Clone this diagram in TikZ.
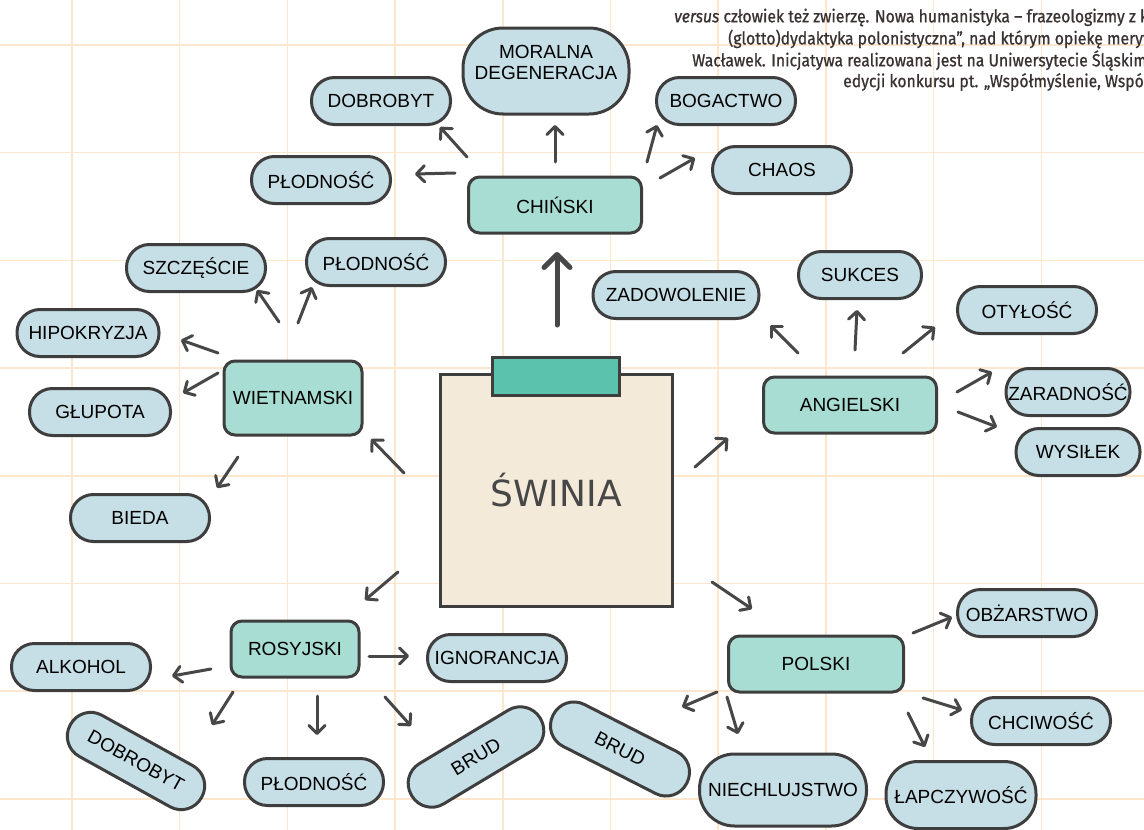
\documentclass[tikz,border=0pt]{standalone}
\usepackage{fontspec}
\usetikzlibrary{calc,arrows.meta,positioning}
\newfontfamily\nodefont{Liberation Sans}
\newfontfamily\bigfont{DejaVu Sans}
\newfontfamily\parfont[FakeStretch=0.9,FakeBold=0.8]{Fira Sans}
\definecolor{gridline}{HTML}{FCE6CC}
\definecolor{leafblue}{HTML}{C6DEE6}
\definecolor{catteal}{HTML}{A7DDD2}
\definecolor{clipteal}{HTML}{5BC3AD}
\definecolor{paper}{HTML}{F4EAD9}
\definecolor{edgegray}{HTML}{3E3E3E}
\definecolor{arrowgray}{HTML}{474747}
\definecolor{textbrown}{HTML}{3A3232}
\tikzset{
     catnode/.style  = {draw=edgegray, fill=catteal, line width=3pt, rounded corners=11pt,
                        minimum width=173pt, minimum height=56pt, inner sep=0pt,
                        font=\nodefont\fontsize{19}{21}\selectfont},
     leafnode/.style = {draw=edgegray, fill=leafblue, line width=3pt, rounded corners=23pt,
                        minimum width=139pt, minimum height=47pt, inner sep=0pt,
                        font=\nodefont\fontsize{19}{21}\selectfont},
     arr/.style      = {arrowgray, line width=3pt, line cap=round, line join=round,
                        -{Straight Barb[length=8pt,width=16pt,round]}},
     bigarr/.style   = {arrowgray, line width=5pt, line cap=round, line join=round,
                        -{Straight Barb[length=13pt,width=26pt,round]}},
     partext/.style  = {anchor=west, inner sep=0pt, text=textbrown,
                        font=\parfont\fontsize{17.5}{19}\selectfont},
    }

\begin{document}
\begin{tikzpicture}[x=1pt,y=-1pt]
        \useasboundingbox (0,0) rectangle (1144,830);
        \clip (0,0) rectangle (1144,830);
        \fill[white] (0,0) rectangle (1144,830);
        % grid paper
        \foreach \gx in {0,...,9}
            \draw[gridline, line width=1.5pt] ({72+107.7*\gx},0) -- ++(0,830);
        \foreach \gy in {0,...,7}
            \draw[gridline, line width=1.5pt] (0,{45+107.7*\gy}) -- ++(1144,0);

        % note in the corner
        \node[partext] (txta) at (674,17.5) {\textit{versus} człowiek też zwierzę. Nowa humanistyka – frazeologizmy z k};
        \node[partext] (txtb) at (728,39) {(glotto)dydaktyka polonistyczna”, nad którym opiekę meryt};
        \node[partext] (txtc) at (692,60.5) {Wacławek. Inicjatywa realizowana jest na Uniwersytecie Śląskim};
        \node[partext] (txtd) at (843,82) {edycji konkursu pt. „Współmyślenie, Współ};

        % centre card
        \node[draw=edgegray, fill=paper, line width=3pt, minimum size=232pt, inner sep=0pt,
              text=black!72, font=\bigfont\fontsize{36}{40}\selectfont] (swinia) at (556,490) {ŚWINIA};
        \node[draw=edgegray, fill=clipteal, line width=3pt, minimum width=127pt, minimum height=38pt] (klips) at (556,376) {};

        % languages
        \node[catnode] (chin) at (555,205) {CHIŃSKI};
        \node[catnode, minimum width=138pt, minimum height=74pt] (wiet) at (293,398) {WIETNAMSKI};
        \node[catnode] (ang) at (850,405) {ANGIELSKI};
        \node[catnode, minimum width=128pt] (ros) at (295,649) {ROSYJSKI};
        \node[catnode, minimum width=175pt] (pol) at (816,664) {POLSKI};

        % chinese
        \node[leafnode, align=center, minimum width=166pt, minimum height=86pt, rounded corners=40pt] (moral) at (546,71) {MORALNA\\DEGENERACJA\\[-4pt]};
        \node[leafnode] (dob1) at (381,101) {DOBROBYT};
        \node[leafnode] (plod1) at (321,180) {PŁODNOŚĆ};
        \node[leafnode] (bog) at (726,101) {BOGACTWO};
        \node[leafnode] (chaos) at (782,170) {CHAOS};

        % vietnamese
        \node[leafnode] (szcz) at (196,268) {SZCZĘŚCIE};
        \node[leafnode] (plod2) at (376,262) {PŁODNOŚĆ};
        \node[leafnode, minimum width=142pt] (hipo) at (88,333) {HIPOKRYZJA};
        \node[leafnode, minimum width=141pt] (glup) at (100,412) {GŁUPOTA};
        \node[leafnode] (bieda) at (140,518) {BIEDA};

        % english
        \node[leafnode, minimum width=166pt] (zado) at (676,295) {ZADOWOLENIE};
        \node[leafnode, minimum width=123pt] (sukc) at (860,275) {SUKCES};
        \node[leafnode] (otyl) at (1027,310) {OTYŁOŚĆ};
        \node[leafnode, minimum width=124pt] (zarad) at (1068,392) {ZARADNOŚĆ};
        \node[leafnode, minimum width=124pt] (wysil) at (1078,452) {WYSIŁEK};

        % russian
        \node[leafnode] (alko) at (81,667) {ALKOHOL};
        \node[leafnode] (ignor) at (497,658) {IGNORANCJA};
        \node[leafnode, minimum width=150pt, rotate=-29] (dob2) at (136,761) {DOBROBYT};
        \node[leafnode] (plod3) at (314,782) {PŁODNOŚĆ};
        \node[leafnode, minimum width=150pt, rotate=31] (brud1) at (476,757) {BRUD};

        % polish
        \node[leafnode] (obz) at (1027,613) {OBŻARSTWO};
        \node[leafnode] (chciw) at (1041,721) {CHCIWOŚĆ};
        \node[leafnode, minimum width=167pt, minimum height=72pt, rounded corners=35pt] (niech) at (783,790) {NIECHLUJSTWO};
        \node[leafnode, minimum width=150pt, minimum height=67pt, rounded corners=32pt] (lapcz) at (961,795) {ŁAPCZYWOŚĆ};
        \node[leafnode, minimum width=150pt, rotate=-27] (brud2) at (620,749) {BRUD};

        \draw[bigarr] ([shift={(1,-165)}]swinia.center) -- ([shift={(2,47)}]chin.center);

        \path[arr]
        ([shift={(-88,-48)}]chin.center) edge ([shift={(59,26)}]dob1.center)
        ([shift={(-100,-32)}]chin.center) edge ([shift={(94,-6)}]plod1.center)
        ([shift={(0,-43)}]chin.center) edge ([shift={(9,54)}]moral.center)
        ([shift={(92,-43)}]chin.center) edge ([shift={(-69,24)}]bog.center)
        ([shift={(105,-27)}]chin.center) edge ([shift={(-87,-12)}]chaos.center)
        ([shift={(-152,-17)}]swinia.center) edge ([shift={(78,41)}]wiet.center)
        ([shift={(-14,-76)}]wiet.center) edge ([shift={(61,22)}]szcz.center)
        ([shift={(5,-75)}]wiet.center) edge ([shift={(-64,25)}]plod2.center)
        ([shift={(-75,-45)}]wiet.center) edge ([shift={(93,7)}]hipo.center)
        ([shift={(-75,-25)}]wiet.center) edge ([shift={(83,-19)}]glup.center)
        ([shift={(-55,59)}]wiet.center) edge ([shift={(77,-30)}]bieda.center)
        ([shift={(139,-23)}]swinia.center) edge ([shift={(-122,33)}]ang.center)
        ([shift={(-52,-52)}]ang.center) edge ([shift={(94,30)}]zado.center)
        ([shift={(5,-55)}]ang.center) edge ([shift={(-3,35)}]sukc.center)
        ([shift={(53,-52)}]ang.center) edge ([shift={(-92,17)}]otyl.center)
        ([shift={(107,-13)}]ang.center) edge ([shift={(-76,-20)}]zarad.center)
        ([shift={(108,7)}]ang.center) edge ([shift={(-81,-25)}]wysil.center)
        ([shift={(-158,82)}]swinia.center) edge ([shift={(70,-49)}]ros.center)
        ([shift={(-84,20)}]ros.center) edge ([shift={(91,9)}]alko.center)
        ([shift={(74,7)}]ros.center) edge ([shift={(-88,-2)}]ignor.center)
        ([shift={(-62,43)}]ros.center) edge ([shift={(76,-36)}]dob2.center)
        ([shift={(22,47)}]ros.center) edge ([shift={(3,-47)}]plod3.center)
        ([shift={(90,48)}]ros.center) edge ([shift={(-65,-31)}]brud1.center)
        ([shift={(156,92)}]swinia.center) edge ([shift={(-64,-55)}]pol.center)
        ([shift={(97,-31)}]pol.center) edge ([shift={(-75,4)}]obz.center)
        ([shift={(107,34)}]pol.center) edge ([shift={(-79,-11)}]chciw.center)
        ([shift={(92,49)}]pol.center) edge ([shift={(-36,-48)}]lapcz.center)
        ([shift={(-89,33)}]pol.center) edge ([shift={(-45,-56)}]niech.center)
        ([shift={(-99,28)}]pol.center) edge ([shift={(62,-42)}]brud2.center);
\end{tikzpicture}
\end{document}
